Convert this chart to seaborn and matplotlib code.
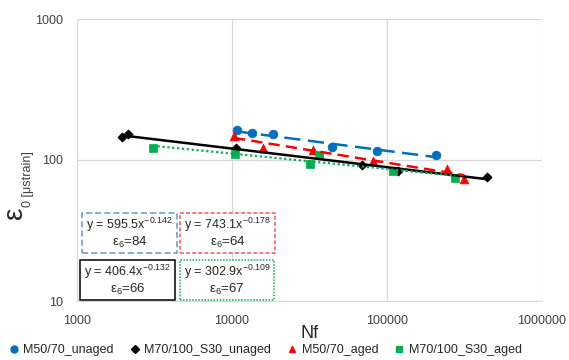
import numpy as np
import pandas as pd
import matplotlib
matplotlib.use("Agg")
import matplotlib.pyplot as plt
import seaborn as sns
from matplotlib.lines import Line2D

# data
series = ["M50/70_unaged", "M70/100_S30_unaged", "M50/70_aged", "M70/100_S30_aged"]
nf_unaged_50 = [10800, 13500, 18400, 44200, 86000, 207000]
eps_unaged_50 = [163, 155, 153, 124, 116, 108.5]
nf_unaged_70 = [1940, 2140, 10600, 68700, 117800, 442000]
eps_unaged_70 = [146, 152, 121, 92, 83, 76]
nf_aged_50 = [10300, 15800, 33500, 81600, 245000, 315000]
eps_aged_50 = [149, 122, 118, 98, 87, 73]
nf_aged_70 = [3080, 10450, 31900, 36400, 108800, 275000]
eps_aged_70 = [122, 110, 94, 108.5, 83, 74]

# power-law trendlines y = a*x^b and eps6 labels
coef_a = [595.5, 406.4, 743.1, 302.9]
coef_b = [-0.142, -0.132, -0.178, -0.109]
eps6 = [84, 66, 64, 67]

nf_all = [nf_unaged_50, nf_unaged_70, nf_aged_50, nf_aged_70]
eps_all = [eps_unaged_50, eps_unaged_70, eps_aged_50, eps_aged_70]

df = pd.concat([pd.DataFrame({"Nf": n, "eps": e, "mix": s})
                for n, e, s in zip(nf_all, eps_all, series)])

colors = ["#0070C0", "#000000", "#FF0000", "#00B050"]
markers = ["o", "D", "^", "s"]
sizes = [40, 22, 40, 38]
line_styles = [(0, (6.5, 3)), "-", (0, (4.5, 2.5)), (0, (1, 1.2))]
box_colors = ["#5B9BD5", "#000000", "#FF5050", "#00B050"]
box_styles = [(0, (4, 2)), "-", (0, (2.5, 1.5)), (0, (1, 1))]

sns.set_style("white")
plt.rcParams["font.family"] = ["Liberation Sans", "DejaVu Sans"]

fig, ax = plt.subplots(figsize=(5.69, 3.6), dpi=100)
fig.subplots_adjust(left=77/569, right=542/569, top=1-19/360, bottom=1-301/360)

for i, s in enumerate(series):
    sub = df[df["mix"] == s]
    sns.scatterplot(data=sub, x="Nf", y="eps", ax=ax, color=colors[i],
                    marker=markers[i], s=sizes[i], edgecolor=colors[i],
                    linewidth=0.5, zorder=3, legend=False)
for i, s in enumerate(series):
    sub = df[df["mix"] == s]
    xs = np.logspace(np.log10(sub["Nf"].min()), np.log10(sub["Nf"].max()), 50)
    ax.plot(xs, coef_a[i] * xs ** coef_b[i], color=colors[i],
            linestyle=line_styles[i], linewidth=1.8 if i != 3 else 1.6, zorder=4)

ax.set_xscale("log")
ax.set_yscale("log")
ax.set_xlim(1000, 1000000)
ax.set_ylim(10, 1000)
ax.set_xticks([1000, 10000, 100000, 1000000])
ax.set_xticklabels(["1000", "10000", "100000", "1000000"])
ax.set_yticks([10, 100, 1000])
ax.set_yticklabels(["10", "100", "1000"])
ax.minorticks_off()
ax.tick_params(labelsize=9, colors="#404040", length=0)
ax.tick_params(axis="x", pad=10)
ax.tick_params(axis="y", pad=10)
ax.grid(True, which="major", color="#D9D9D9", linewidth=0.9)
for sp in ax.spines.values():
    sp.set_color("#D9D9D9")
ax.spines["top"].set_visible(False)
ax.spines["right"].set_visible(False)

ax.set_xlabel("Nf", fontsize=13, labelpad=-1)
ax.set_ylabel("")
fig.text(15/569, 1-213/360, "ε", fontsize=20, rotation=90, va="center", ha="center")
fig.text(28/569, 1-207/360, "0 [μstrain]", fontsize=9, rotation=90,
         va="bottom", ha="center", color="#404040")

# equation boxes (axes pixel geometry)
box_pos = [(82, 213), (80, 260), (180, 213), (180, 260)]
for i in range(4):
    x0, y0 = box_pos[i]
    w = 95 if i != 3 else 94
    bx = (x0 - 77) / 465
    by = (301 - y0 - 40) / 282
    rect = plt.Rectangle((bx, by), w / 465, 40 / 282, transform=ax.transAxes,
                         fill=True, facecolor="white", edgecolor=box_colors[i],
                         linestyle=box_styles[i], linewidth=1.1, zorder=5)
    ax.add_patch(rect)
    cx = bx + w / 465 / 2
    ax.text(cx, by + 28 / 282,
            "y = %.1fx$^{\\mathregular{%.3f}}$" % (coef_a[i], coef_b[i]),
            transform=ax.transAxes, ha="center", va="center", fontsize=9,
            zorder=6)
    ax.text(cx, by + 11 / 282, "ε$_{\\mathregular{6}}$=%d" % eps6[i],
            transform=ax.transAxes, ha="center", va="center", fontsize=9.5,
            zorder=6)

handles = [Line2D([], [], linestyle="none", marker=markers[i], color=colors[i],
                  markersize=5 if i != 1 else 4) for i in range(4)]
fig.legend(handles, series, loc="lower center", ncol=4, frameon=False,
           bbox_to_anchor=(0.465, -0.02), fontsize=9, handletextpad=0.25,
           handlelength=1.0, columnspacing=1.2)

plt.savefig("out.png", dpi=100)
plt.close()
